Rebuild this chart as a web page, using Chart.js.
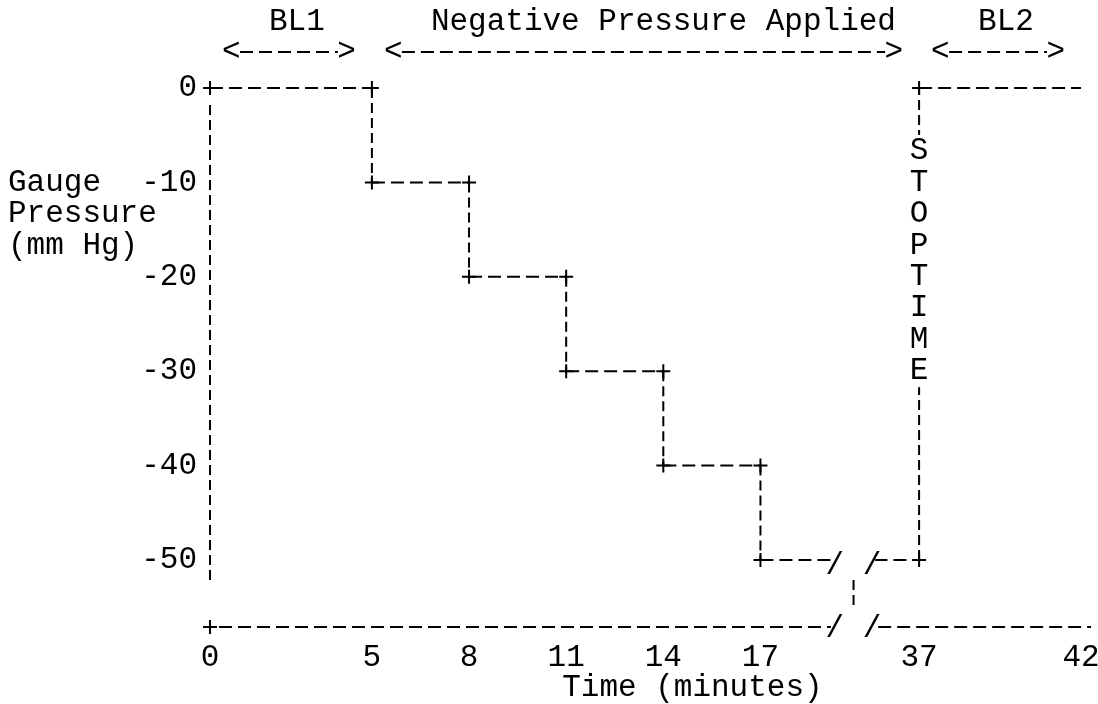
<!DOCTYPE html>
<html>
<head>
<meta charset="utf-8">
<script src="https://cdn.jsdelivr.net/npm/chart.js@4.4.1/dist/chart.umd.min.js"></script>
<style>
  html, body { margin: 0; padding: 0; background: #fff; }
  #wrap { width: 1098px; height: 704px; }
</style>
</head>
<body>
<div id="wrap"><canvas id="pressureChart"></canvas></div>
<script>
// each step holds one pressure level from stepStart to stepEnd (minutes)
const stepStart = [0, 5, 8, 11, 14, 17, 37];
const stepEnd = [5, 8, 11, 14, 17, 37, 42];
const stepLevel = [0, -10, -20, -30, -40, -50, 0];

const timeTicks = [0, 5, 8, 11, 14, 17, 37, 42];
const pressureTicks = [0, -10, -20, -30, -40, -50];

const phaseNames = ['BL1', 'Negative Pressure Applied', 'BL2'];
const phaseFrom = [0, 5, 37];
const phaseTo = [5, 37, 42];

const yTitle = ['Gauge', 'Pressure', '(mm Hg)'];
const xTitle = 'Time (minutes)';
const stopText = 'STOPTIME';

const FONT = "31px 'Liberation Mono', 'DejaVu Sans Mono', monospace";
const ROW = 10 / 3; // one typed row in pressure units
const H_DASH = [13, 6], V_DASH = [10, 5];

// broken time axis: 17..37 min squeezed into a short gap
const breakFrom = 17, breakTo = 37, breakWidth = 4.9;
const breakMarks = [19.3, 20.45];
function axisPos(t) {
    if (t <= breakFrom) return t;
    if (t >= breakTo) return breakFrom + breakWidth + (t - breakTo);
    return breakFrom + breakWidth * (t - breakFrom) / (breakTo - breakFrom);
}

const points = [];
stepLevel.forEach((lvl, i) => {
    points.push({ x: axisPos(stepStart[i]), y: lvl });
    points.push({ x: axisPos(stepEnd[i]), y: lvl });
});

function dashLine(ctx, x0, y0, x1, y1, dash) {
    ctx.beginPath();
    ctx.setLineDash(dash);
    ctx.moveTo(x0, y0);
    ctx.lineTo(x1, y1);
    ctx.stroke();
    ctx.setLineDash([]);
}

const typedDecor = {
    id: 'typedDecor',
    beforeDatasetsDraw(chart) {
        const { ctx, chartArea: a, scales: { x, y } } = chart;
        ctx.save();
        ctx.strokeStyle = '#000';
        ctx.lineWidth = 2;
        // y axis
        dashLine(ctx, a.left, y.getPixelForValue(-1.8), a.left, y.getPixelForValue(-52.3), V_DASH);
        // x axis, broken
        const b0 = x.getPixelForValue(breakMarks[0]), b1 = x.getPixelForValue(breakMarks[1]);
        dashLine(ctx, a.left + 9, a.bottom, b0 - 4, a.bottom, H_DASH);
        dashLine(ctx, b1 + 6, a.bottom, a.right + 10, a.bottom, H_DASH);
        // origin +
        ctx.beginPath();
        ctx.moveTo(a.left - 7, a.bottom); ctx.lineTo(a.left + 7, a.bottom);
        ctx.moveTo(a.left, a.bottom - 7); ctx.lineTo(a.left, a.bottom + 7);
        ctx.stroke();
        ctx.restore();
    },
    afterDatasetsDraw(chart) {
        const { ctx, chartArea: a, scales: { x, y } } = chart;
        ctx.save();
        ctx.font = FONT;
        ctx.fillStyle = '#000';
        ctx.strokeStyle = '#000';
        ctx.lineWidth = 2;
        ctx.textBaseline = 'middle';

        // break in the -50 line and on the axis
        const b0 = x.getPixelForValue(breakMarks[0]), b1 = x.getPixelForValue(breakMarks[1]);
        const yb = y.getPixelForValue(-50);
        ctx.fillStyle = '#fff';
        ctx.fillRect(b0 - 3, yb - 6, b1 - b0 + 6, 12);
        ctx.fillStyle = '#000';
        ctx.textAlign = 'center';
        [b0, b1].forEach(bx => {
            ctx.fillText('/', bx, yb + 6);
            ctx.fillText('/', bx, a.bottom + 2);
        });
        dashLine(ctx, (b0 + b1) / 2, a.bottom - 47, (b0 + b1) / 2, a.bottom - 20, V_DASH);

        // STOPTIME written down the 37 min line
        const xs = x.getPixelForValue(axisPos(37));
        const yS = y.getPixelForValue(-2 * ROW);
        const yE = y.getPixelForValue(-(stopText.length + 1) * ROW);
        ctx.fillStyle = '#fff';
        ctx.fillRect(xs - 12, yS - 16, 24, yE - yS + 32);
        ctx.fillStyle = '#000';
        stopText.split('').forEach((ch, i) => {
            ctx.fillText(ch, xs, y.getPixelForValue(-(i + 2) * ROW));
        });

        // phase headings with arrows
        phaseNames.forEach((name, i) => {
            const x0 = x.getPixelForValue(axisPos(phaseFrom[i])) + 12;
            const x1 = x.getPixelForValue(axisPos(phaseTo[i])) - 16;
            ctx.textAlign = 'left';
            ctx.fillText('<', x0, 52);
            ctx.fillText(name, x0 + 47, 22);
            ctx.textAlign = 'right';
            ctx.fillText('>', x1, 52);
            dashLine(ctx, x0 + 18, 52, x1 - 18, 52, H_DASH);
        });

        // axis titles
        ctx.textAlign = 'left';
        yTitle.forEach((line, i) => {
            ctx.fillText(line, 8, y.getPixelForValue(-10 - i * ROW));
        });
        ctx.fillText(xTitle, x.getPixelForValue(axisPos(11)) - 4, 688);
        ctx.restore();
    }
};

new Chart(document.getElementById('pressureChart'), {
    type: 'line',
    data: {
        datasets: [{
            data: points,
            borderColor: '#000',
            borderWidth: 2,
            borderDash: H_DASH,
            fill: false,
            tension: 0,
            clip: false,
            segment: {
                borderDash: c => c.p0.parsed.x === c.p1.parsed.x ? V_DASH : H_DASH
            },
            pointStyle: 'cross',
            pointRadius: c => c.dataIndex === points.length - 1 ? 0 : 7,
            pointBorderWidth: 2,
            pointBorderColor: '#000'
        }]
    },
    options: {
        responsive: true,
        maintainAspectRatio: false,
        animation: false,
        events: [],
        layout: { padding: { top: 88, right: 17, bottom: 0, left: 0 } },
        plugins: { legend: { display: false }, tooltip: { enabled: false } },
        scales: {
            x: {
                type: 'linear',
                min: 0,
                max: axisPos(42),
                grid: { display: false, drawTicks: false },
                border: { display: false },
                ticks: {
                    font: { family: "'Liberation Mono', monospace", size: 31 },
                    color: '#000',
                    padding: 12,
                    maxRotation: 0,
                    autoSkip: false,
                    callback: (v, i) => timeTicks[i]
                },
                afterBuildTicks: s => { s.ticks = timeTicks.map(t => ({ value: axisPos(t) })); },
                afterFit: s => { s.height = 77; s.paddingLeft = 0; s.paddingRight = 0; }
            },
            y: {
                type: 'linear',
                min: -57.1,
                max: 0,
                grid: { display: false, drawTicks: false },
                border: { display: false },
                ticks: {
                    font: { family: "'Liberation Mono', monospace", size: 31 },
                    color: '#000',
                    padding: 13
                },
                afterBuildTicks: s => { s.ticks = pressureTicks.map(v => ({ value: v })); },
                afterFit: s => { s.width = 210; s.paddingTop = 0; s.paddingBottom = 0; }
            }
        }
    },
    plugins: [typedDecor]
});
</script>
</body>
</html>
